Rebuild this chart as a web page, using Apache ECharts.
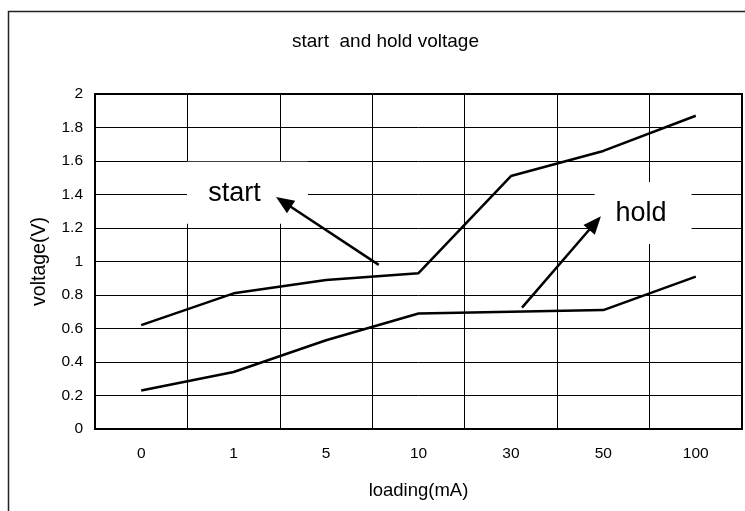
<!DOCTYPE html>
<html>
<head>
<meta charset="utf-8">
<script src="https://cdn.jsdelivr.net/npm/echarts@6/dist/echarts.min.js"></script>
<style>html,body{margin:0;padding:0;background:#fff;}#c{width:745px;height:511px;}</style>
</head>
<body>
<div id="c"></div>
<script>
var titleText = 'start  and hold voltage';
var categories = ['0', '1', '5', '10', '30', '50', '100'];
var startValues = [0.62, 0.81, 0.89, 0.93, 1.51, 1.66, 1.87];
var holdValues = [0.23, 0.34, 0.53, 0.69, 0.70, 0.71, 0.91];
var yTicks = [0, 0.2, 0.4, 0.6, 0.8, 1, 1.2, 1.4, 1.6, 1.8, 2];
var xName = 'loading(mA)';
var yName = 'voltage(V)';
// annotations in data units (x = category index, y = voltage)
var labelBoxes = [
  {text: 'start', at: [1.15, 1.41], shift: -13, w: 121},
  {text: 'hold', at: [5.43, 1.29], shift: -2, w: 97}
];
var arrows = [
  {from: [2.57, 0.98], to: [1.54, 1.355]},
  {from: [4.12, 0.725], to: [4.91, 1.23]}
];

var FONT = 'Liberation Sans, Arial, sans-serif';
var chart = echarts.init(document.getElementById('c'));
chart.setOption({
  animation: false,
  backgroundColor: '#fff',
  title: {
    text: titleText, left: 287, top: 27,
    textStyle: {fontFamily: FONT, fontSize: 19, fontWeight: 'normal', color: '#000'}
  },
  grid: {left: 95, top: 94, right: 3, bottom: 82, show: true, borderColor: '#000', borderWidth: 2, containLabel: false},
  xAxis: [{
    type: 'category', data: categories, boundaryGap: true,
    axisLine: {show: false}, axisTick: {show: false},
    axisLabel: {color: '#000', fontFamily: FONT, fontSize: 15.5, margin: 17},
    splitLine: {show: true, lineStyle: {color: '#000', width: 1}},
    name: xName, nameLocation: 'middle', nameGap: 52,
    nameTextStyle: {color: '#000', fontFamily: FONT, fontSize: 18.5}
  }, {
    type: 'value', min: -0.5, max: 6.5, show: false
  }],
  yAxis: {
    type: 'value', min: 0, max: 2, interval: 0.2,
    axisLine: {show: false}, axisTick: {show: false},
    axisLabel: {color: '#000', fontFamily: FONT, fontSize: 15.5, margin: 12,
      formatter: function (v) { var r = Math.round(v * 10) / 10; return yTicks.indexOf(r) >= 0 ? String(r) : ''; }},
    splitLine: {show: true, lineStyle: {color: '#000', width: 1}},
    name: yName, nameLocation: 'middle', nameGap: 45,
    nameTextStyle: {color: '#000', fontFamily: FONT, fontSize: 19.5}
  },
  graphic: [{
    type: 'rect', shape: {x: 8.5, y: 11.5, width: 800, height: 600},
    style: {fill: 'none', stroke: '#222', lineWidth: 1.5}, z: 100, silent: true
  }],
  series: [{
    type: 'line', data: startValues, symbol: 'none', z: 5,
    lineStyle: {color: '#000', width: 2.5}
  }, {
    type: 'line', data: holdValues, symbol: 'none', z: 5,
    lineStyle: {color: '#000', width: 2.5}
  }, {
    type: 'scatter', xAxisIndex: 1, z: 3,
    data: labelBoxes.map(function (b) {
      return {value: b.at, name: b.text, symbolSize: [b.w, 62], label: {offset: [b.shift, 1]}};
    }),
    symbol: 'rect',
    itemStyle: {color: '#fff', opacity: 1},
    label: {show: true, position: 'inside', formatter: '{b}', color: '#000', fontFamily: FONT, fontSize: 27},
    silent: true
  }, {
    type: 'line', xAxisIndex: 1, data: [], z: 6, symbol: 'none',
    markLine: {
      silent: true, symbol: ['none', 'triangle'], symbolSize: [15, 18],
      label: {show: false},
      lineStyle: {color: '#000', width: 2.5, type: 'solid'},
      data: arrows.map(function (a) { return [{coord: a.from}, {coord: a.to}]; })
    }
  }]
});
</script>
</body>
</html>
